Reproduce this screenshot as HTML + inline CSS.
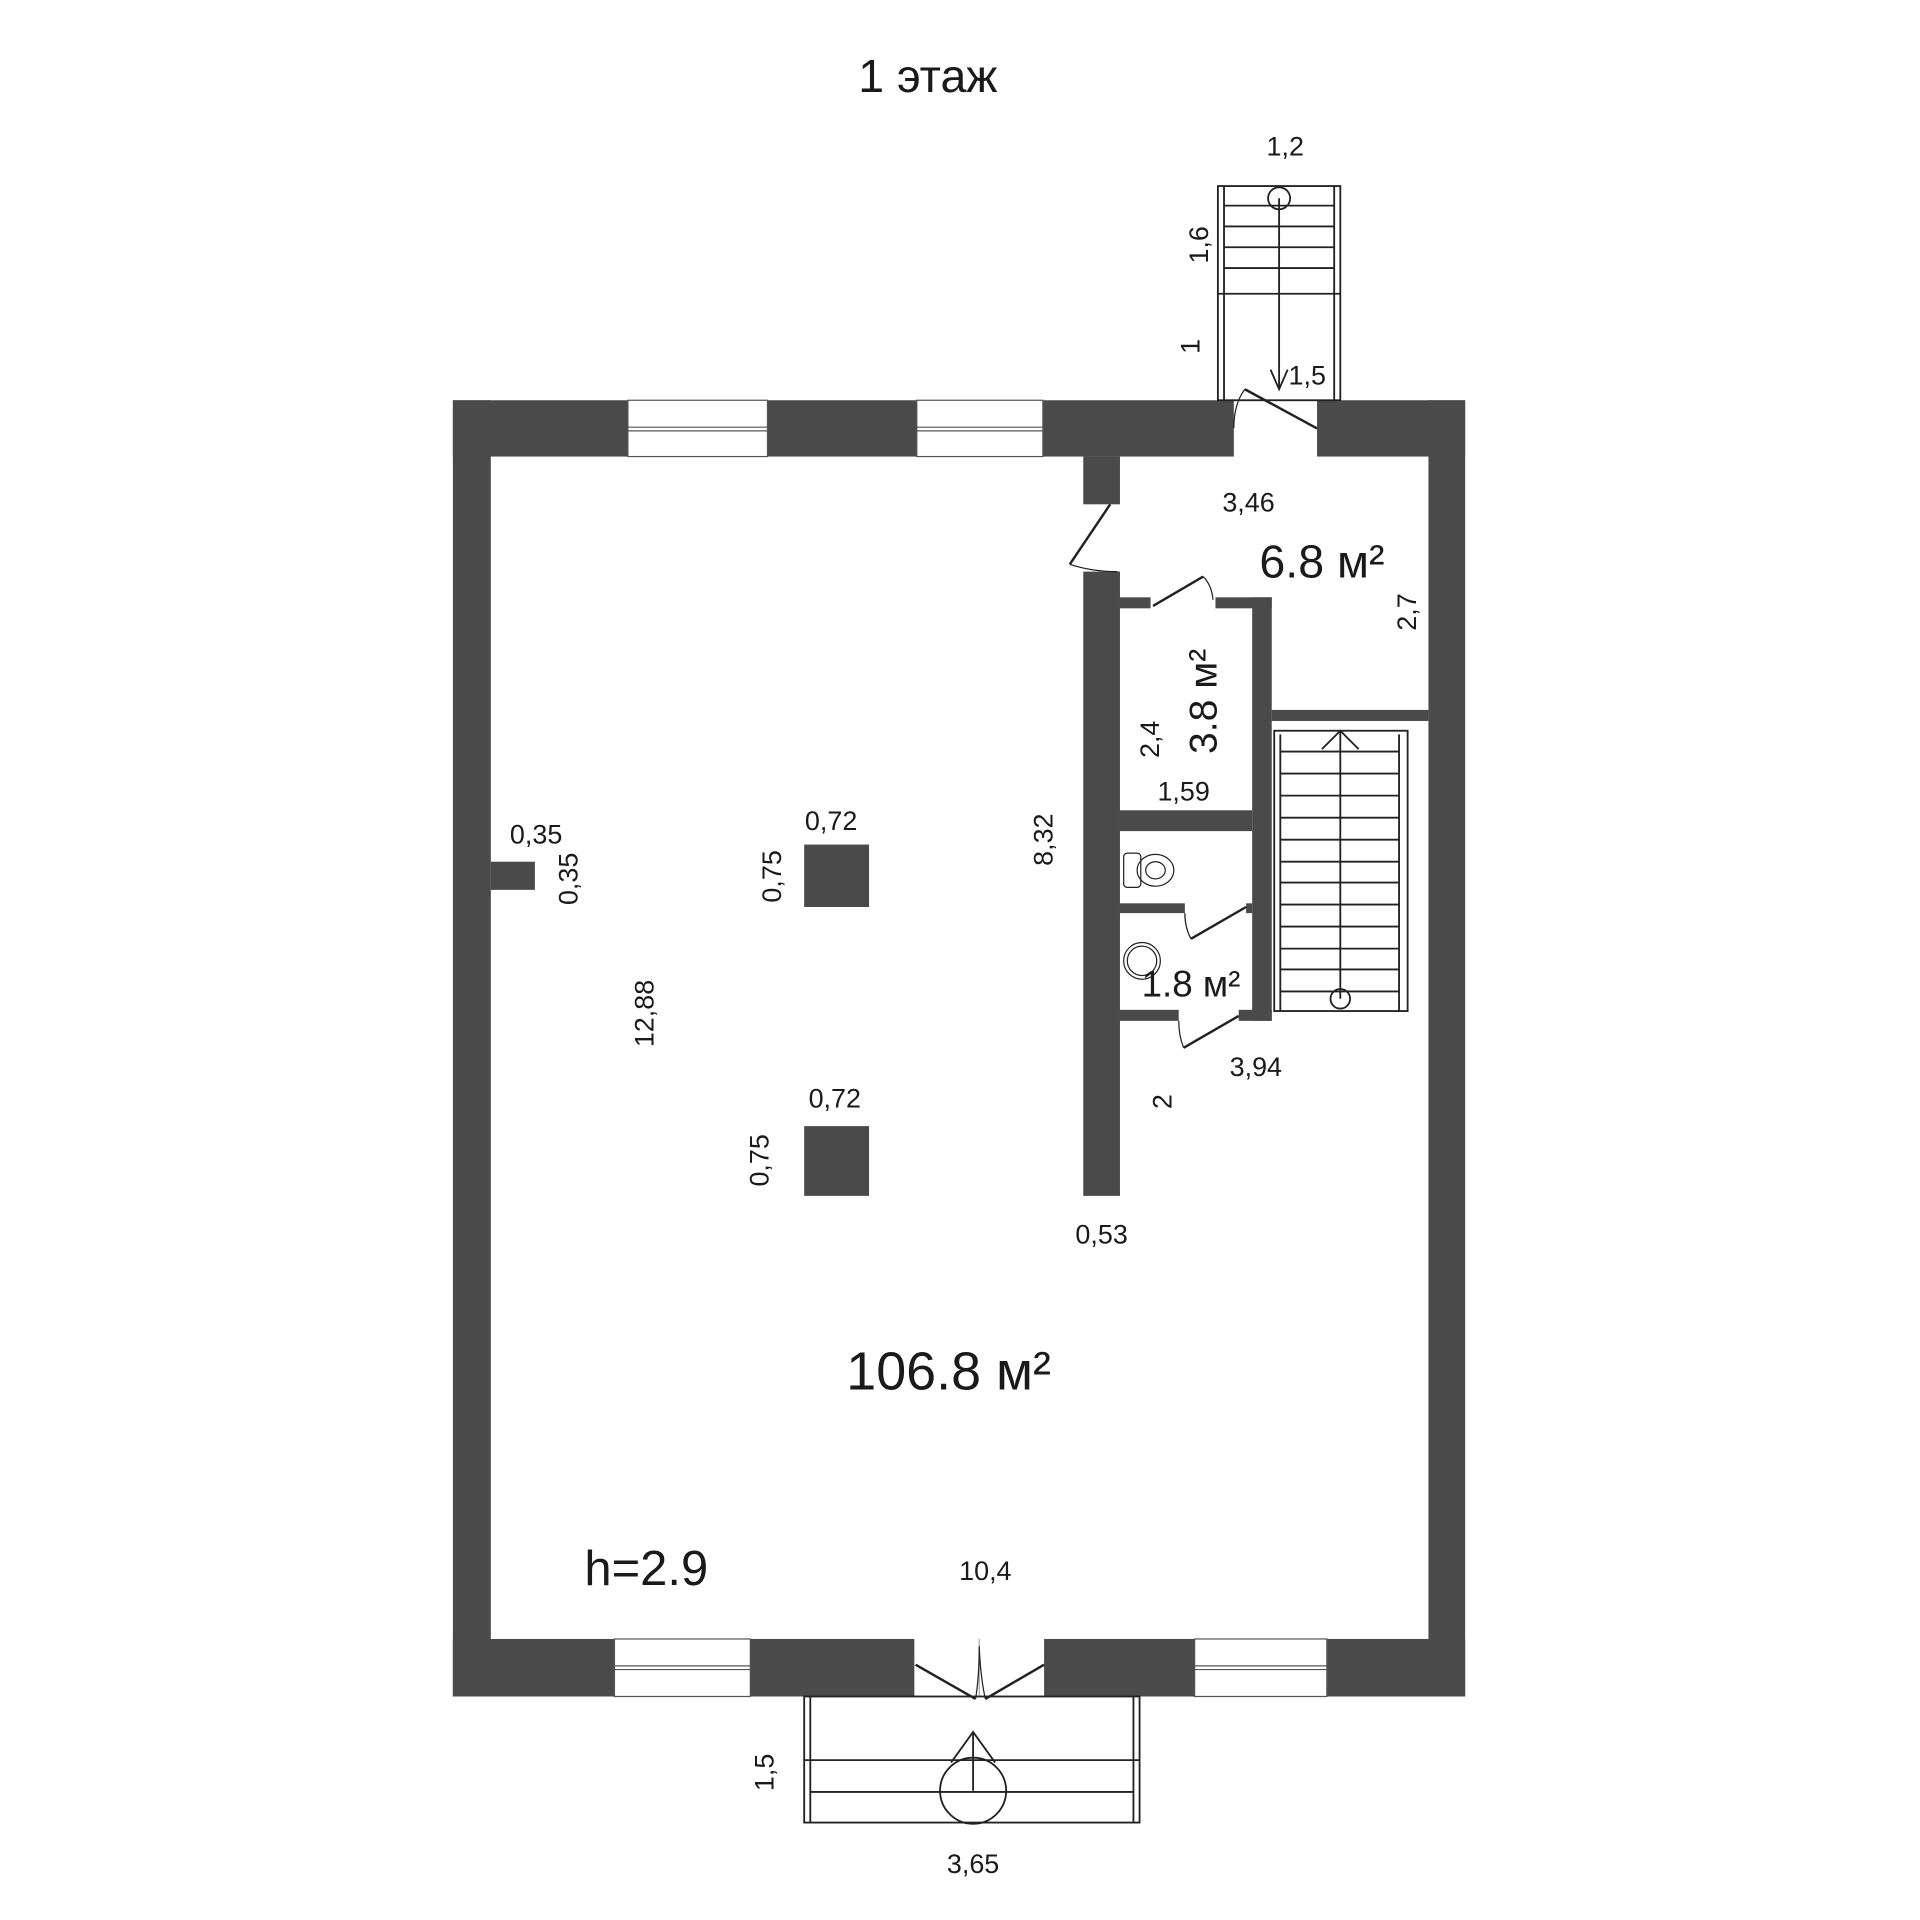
<!DOCTYPE html>
<html><head><meta charset="utf-8"><style>
html,body{margin:0;padding:0;background:#fff}
svg{display:block}
text{font-family:"Liberation Sans",sans-serif;fill:#1a1a1a}
</style></head><body>
<svg width="1920" height="1920" viewBox="0 0 1568.6 1568.6" xmlns="http://www.w3.org/2000/svg">
<g fill="#4a4a4a">
<!-- top wall -->
<rect x="370" y="327" width="143" height="46"/>
<rect x="627" y="327" width="122" height="46"/>
<rect x="852" y="327" width="156" height="46"/>
<rect x="1076" y="327" width="121" height="46"/>
<!-- bottom wall -->
<rect x="370" y="1339" width="132" height="47"/>
<rect x="613" y="1339" width="134" height="47"/>
<rect x="853" y="1339" width="123" height="47"/>
<rect x="1084" y="1339" width="113" height="47"/>
<!-- sides -->
<rect x="370" y="327" width="31" height="1059"/>
<rect x="1167" y="327" width="30" height="1059"/>
<rect x="401" y="704" width="36" height="23"/>
<!-- pillars -->
<rect x="657" y="690" width="53" height="51"/>
<rect x="657" y="920" width="53" height="57"/>
<!-- partition -->
<rect x="885" y="373" width="30" height="39"/>
<rect x="885" y="467" width="30" height="510"/>
<!-- 3.8 room -->
<rect x="915" y="488" width="25" height="9"/>
<rect x="993" y="488" width="46" height="9"/>
<rect x="1023" y="488" width="16" height="346"/>
<rect x="1039" y="580" width="128" height="9"/>
<rect x="915" y="662" width="108" height="17"/>
<rect x="915" y="738" width="53" height="8"/>
<rect x="1018" y="738" width="5" height="8"/>
<rect x="915" y="825" width="48" height="9"/>
<rect x="1012" y="825" width="27" height="9"/>
</g>
<g fill="none" stroke="#555" stroke-width="1">
<rect x="513" y="327" width="114" height="46"/><line x1="513" y1="349" x2="627" y2="349"/><line x1="513" y1="352" x2="627" y2="352"/>
<rect x="749" y="327" width="103" height="46"/><line x1="749" y1="349" x2="852" y2="349"/><line x1="749" y1="352" x2="852" y2="352"/>
<rect x="502" y="1339" width="111" height="47"/><line x1="502" y1="1361" x2="613" y2="1361"/><line x1="502" y1="1364" x2="613" y2="1364"/>
<rect x="976" y="1339" width="108" height="47"/><line x1="976" y1="1361" x2="1084" y2="1361"/><line x1="976" y1="1364" x2="1084" y2="1364"/>
<line x1="800" y1="1339" x2="800" y2="1386" stroke="#aaa"/>
</g>
<g fill="none" stroke="#222" stroke-width="1.5">
<!-- top stair -->
<rect x="995" y="152" width="100" height="175"/>
<line x1="1000" y1="152" x2="1000" y2="327"/><line x1="1090" y1="152" x2="1090" y2="327"/>
<line x1="1000" y1="168" x2="1090" y2="168"/><line x1="1000" y1="185" x2="1090" y2="185"/>
<line x1="1000" y1="202" x2="1090" y2="202"/><line x1="1000" y1="219" x2="1090" y2="219"/>
<line x1="995" y1="240" x2="1095" y2="240"/>
<circle cx="1045" cy="162" r="9"/>
<line x1="1045" y1="162" x2="1045" y2="318"/>
<polyline points="1038,302 1045,318 1052,302"/>
<!-- doors -->
<line x1="1076" y1="350" x2="1017" y2="318" stroke-width="2"/>
<path d="M1017,318 Q1008,330 1008,350" stroke-width="1"/>
<line x1="907" y1="412" x2="874" y2="461" stroke-width="2"/>
<path d="M874,461 Q892,467 913,467" stroke-width="1"/>
<line x1="942" y1="495" x2="983" y2="471" stroke-width="2"/>
<path d="M983,471 Q990,478 991,490" stroke-width="1"/>
<line x1="1018" y1="741" x2="973" y2="767" stroke-width="2"/>
<path d="M973,767 Q968,758 968,746" stroke-width="1"/>
<line x1="1012" y1="830" x2="967" y2="856" stroke-width="2"/>
<path d="M967,856 Q963,846 963,834" stroke-width="1"/>
<line x1="748" y1="1360" x2="797" y2="1388" stroke-width="2"/>
<line x1="853" y1="1360" x2="805" y2="1388" stroke-width="2"/>
<path d="M797,1388 Q800,1370 800,1345 Q801,1370 805,1388" stroke-width="1"/>
<!-- inner stair -->
<rect x="1041" y="597" width="109" height="229"/>
<line x1="1046" y1="600" x2="1046" y2="826"/><line x1="1143" y1="600" x2="1143" y2="826"/>
<line x1="1046" y1="614" x2="1143" y2="614"/><line x1="1046" y1="632" x2="1143" y2="632"/>
<line x1="1046" y1="650" x2="1143" y2="650"/><line x1="1046" y1="668" x2="1143" y2="668"/>
<line x1="1046" y1="686" x2="1143" y2="686"/><line x1="1046" y1="704" x2="1143" y2="704"/>
<line x1="1046" y1="721" x2="1143" y2="721"/><line x1="1046" y1="739" x2="1143" y2="739"/>
<line x1="1046" y1="757" x2="1143" y2="757"/><line x1="1046" y1="775" x2="1143" y2="775"/>
<line x1="1046" y1="792" x2="1143" y2="792"/><line x1="1046" y1="810" x2="1143" y2="810"/>
<line x1="1095" y1="597" x2="1095" y2="816"/>
<polyline points="1080,612 1095,597 1110,612"/>
<circle cx="1095" cy="816" r="8"/>
<!-- bottom stair -->
<rect x="657" y="1386" width="274" height="103"/>
<line x1="662" y1="1386" x2="662" y2="1489"/><line x1="926" y1="1386" x2="926" y2="1489"/>
<line x1="657" y1="1438" x2="931" y2="1438"/><line x1="662" y1="1464" x2="926" y2="1464"/>
<circle cx="795" cy="1463" r="27"/>
<line x1="795" y1="1463" x2="795" y2="1415"/>
<polyline points="777,1440 795,1415 813,1440"/>
<!-- toilet -->
<rect x="918" y="697" width="14" height="28" rx="3" stroke-width="1"/>
<ellipse cx="944" cy="711" rx="15" ry="13" stroke-width="1"/>
<ellipse cx="944" cy="711" rx="8" ry="7" stroke-width="1"/>
<circle cx="933" cy="785" r="15" stroke-width="1"/>
<circle cx="933" cy="785" r="12" stroke-width="1"/>
</g>
<g font-size="22">
<text x="758" y="75" font-size="38" text-anchor="middle">1 этаж</text>
<text x="1050" y="127" text-anchor="middle">1,2</text>
<text x="1068" y="314" text-anchor="middle">1,5</text>
<text x="1020" y="418" text-anchor="middle">3,46</text>
<text x="1080" y="472" font-size="38" text-anchor="middle">6.8 м²</text>
<text x="967" y="654" text-anchor="middle">1,59</text>
<text x="438" y="689" text-anchor="middle">0,35</text>
<text x="679" y="678" text-anchor="middle">0,72</text>
<text x="682" y="905" text-anchor="middle">0,72</text>
<text x="1026" y="879" text-anchor="middle">3,94</text>
<text x="900" y="1016" text-anchor="middle">0,53</text>
<text x="775" y="1135" font-size="44" text-anchor="middle">106.8 м²</text>
<text x="528" y="1295" font-size="40" text-anchor="middle">h=2.9</text>
<text x="805" y="1291" text-anchor="middle">10,4</text>
<text x="973" y="814" font-size="30" text-anchor="middle">1.8 м²</text>
<text x="795" y="1530" text-anchor="middle">3,65</text>
<text transform="translate(987,200) rotate(-90)" text-anchor="middle">1,6</text>
<text transform="translate(980,283) rotate(-90)" text-anchor="middle">1</text>
<text transform="translate(1157,500) rotate(-90)" text-anchor="middle">2,7</text>
<text transform="translate(994,573) rotate(-90)" font-size="32" text-anchor="middle">3.8 м²</text>
<text transform="translate(947,604) rotate(-90)" text-anchor="middle">2,4</text>
<text transform="translate(860,686) rotate(-90)" text-anchor="middle">8,32</text>
<text transform="translate(472,718) rotate(-90)" text-anchor="middle">0,35</text>
<text transform="translate(638,716) rotate(-90)" text-anchor="middle">0,75</text>
<text transform="translate(628,948) rotate(-90)" text-anchor="middle">0,75</text>
<text transform="translate(534,828) rotate(-90)" text-anchor="middle">12,88</text>
<text transform="translate(957,900) rotate(-90)" text-anchor="middle">2</text>
<text transform="translate(632,1448) rotate(-90)" text-anchor="middle">1,5</text>
</g>
</svg>
</body></html>
